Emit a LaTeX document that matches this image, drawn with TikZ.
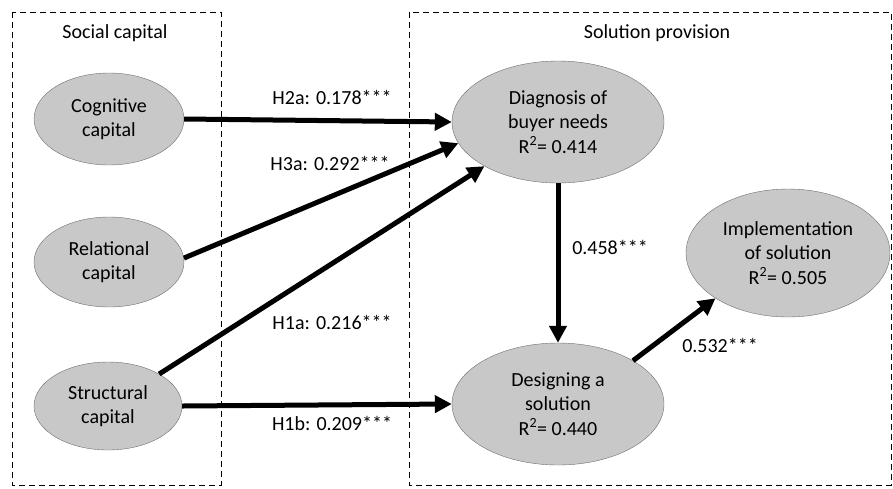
\documentclass[tikz,border=0pt]{standalone}
\usepackage{fontspec}
\setmainfont{Carlito}
\usetikzlibrary{arrows.meta,shapes.geometric}
\definecolor{latentfill}{RGB}{200,200,200}
\definecolor{latentline}{RGB}{110,110,110}

\begin{document}
\begin{tikzpicture}[x=1pt,y=-1pt,
    font=\fontsize{20}{24.5}\selectfont,
    latent/.style={ellipse,draw=latentline,fill=latentfill,inner sep=0pt,align=center},
    path/.style={line width=5pt,-{Triangle[length=17pt,width=17pt]}},
    groupbox/.style={draw,thin,dash pattern=on 6pt off 4pt}]
  \useasboundingbox (0,0) rectangle (893,488);
  % construct groups
  \draw[groupbox] (12,12) rectangle (221,485);
  \draw[groupbox] (409,12) rectangle (891,485);
  \node (social) at (115,33) {Social capital};
  \node (provision) at (657,33) {Solution provision};
  % latent variables
  \node[latent,minimum width=150pt,minimum height=92pt] (cog) at (109,119) {Cognitive\\capital};
  \node[latent,minimum width=150pt,minimum height=90pt] (rel) at (109,262) {Relational\\capital};
  \node[latent,minimum width=148pt,minimum height=88pt] (struct) at (108,406) {Structural\\capital};
  \node[latent,minimum width=212pt,minimum height=122pt] (diag) at (558,122) {Diagnosis of\\buyer needs\\R\textsuperscript{2}= 0.414};
  \node[latent,minimum width=212pt,minimum height=122pt] (design) at (558,404) {Designing a\\solution\\R\textsuperscript{2}= 0.440};
  \node[latent,minimum width=204pt,minimum height=128pt] (impl) at (788,253) {Implementation\\of solution\\R\textsuperscript{2}= 0.505};
  % structural paths
  \draw[path] (cog.east) -- (diag.west);
  \draw[path] (rel.3) -- (diag.192);
  \draw[path] (struct.32) -- (diag.211);
  \draw[path] (struct.east) -- (design.west);
  \draw[path] (diag.south) -- (design.north);
  \draw[path] (design.30) -- (impl.212);
  % path coefficients
  \node (h2a) at (332,97) {H2a: 0.178***};
  \node (h3a) at (330,163) {H3a: 0.292***};
  \node (h1a) at (332,322) {H1a: 0.216***};
  \node (h1b) at (332,423) {H1b: 0.209***};
  \node (diagdesign) at (610,247) {0.458***};
  \node (designimpl) at (720,345) {0.532***};
  % \node at (558,300) {};
\end{tikzpicture}
\end{document}
